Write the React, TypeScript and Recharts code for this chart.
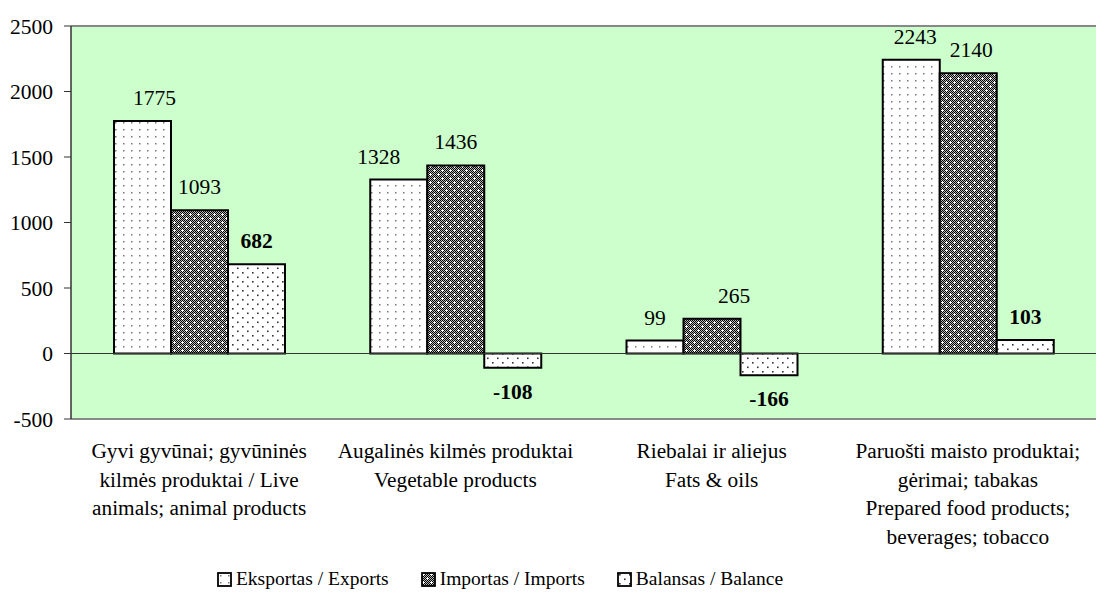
import { BarChart, Bar, XAxis, YAxis, CartesianGrid, ReferenceLine, Legend, LabelList } from 'recharts'

const CATEGORIES = ['animal', 'vegetable', 'fats', 'prepared']

const CATEGORY_LINES: string[][] = [
  ['Gyvi gyvūnai; gyvūninės', 'kilmės produktai / Live', 'animals; animal products'],
  ['Augalinės kilmės produktai', 'Vegetable products'],
  ['Riebalai ir aliejus', 'Fats & oils'],
  ['Paruošti maisto produktai;', 'gėrimai; tabakas', 'Prepared food products;', 'beverages; tobacco'],
]

const EXPORTS = [1775, 1328, 99, 2243]
const IMPORTS = [1093, 1436, 265, 2140]
const BALANCE = [682, -108, -166, 103]

const Y_TICKS = [-500, 0, 500, 1000, 1500, 2000, 2500]

const SERIES = [
  { key: 'exports', name: 'Eksportas / Exports', fill: 'url(#patExports)', bold: false },
  { key: 'imports', name: 'Importas / Imports', fill: 'url(#patImports)', bold: false },
  { key: 'balance', name: 'Balansas / Balance', fill: 'url(#patBalance)', bold: true },
]

// a few labels sit off-centre in the original
const LABEL_NUDGE: Record<string, number[]> = {
  exports: [12, -20, 0, 4],
  imports: [0, 0, 22, 3],
  balance: [0, 0, 0, 0],
}

const FONT = 'Liberation Serif, Tinos, DejaVu Serif, serif'

const data = CATEGORIES.map((key, i) => ({
  key,
  exports: EXPORTS[i],
  imports: IMPORTS[i],
  balance: BALANCE[i],
}))

function CategoryTick(props: any) {
  const { x, y, index } = props
  const lines = CATEGORY_LINES[index] || []
  return (
    <text x={x} y={y} textAnchor="middle" style={{ fontFamily: FONT }} fontSize={21.3} fill="#000">
      {lines.map((line, i) => (
        <tspan key={i} x={x} dy={i === 0 ? 39 : 28.5}>
          {line}
        </tspan>
      ))}
    </text>
  )
}

function makeLabel(seriesKey: string, bold: boolean) {
  return (props: any) => {
    const { x, y, width, height, value, index } = props
    const top = Math.min(y, y + height)
    const bottom = Math.max(y, y + height)
    const ty = value >= 0 ? top - 16 : bottom + 31
    const nudge = LABEL_NUDGE[seriesKey][index] || 0
    return (
      <text
        x={x + width / 2 + nudge}
        y={ty}
        textAnchor="middle"
        style={{ fontFamily: FONT }}
        fontSize={21.5}
        fontWeight={bold ? 'bold' : 'normal'}
        fill="#000"
      >
        {value}
      </text>
    )
  }
}

function checkerRects() {
  const out = []
  for (let i = 0; i < 8; i++) {
    for (let j = 0; j < 8; j++) {
      if ((i + j) % 2 === 0) out.push(<rect key={`${i}-${j}`} x={i} y={j} width={1} height={1} fill="#000" />)
    }
  }
  return out
}

function renderLegend() {
  return (
    <div
      style={{
        height: 44,
        display: 'flex',
        justifyContent: 'center',
        alignItems: 'flex-end',
        gap: 32,
        fontFamily: FONT,
        fontSize: 19.5,
        lineHeight: '20px',
        paddingRight: 96,
        boxSizing: 'border-box',
        paddingBottom: 4,
      }}
    >
      {SERIES.map(s => (
        <div key={s.key} style={{ display: 'flex', alignItems: 'center', gap: 4 }}>
          <svg width={15} height={15} style={{ display: 'block' }}>
            <rect x={1} y={1} width={13} height={13} fill={s.fill} stroke="#000" strokeWidth={1.8} />
          </svg>
          <span>{s.name}</span>
        </div>
      ))}
    </div>
  )
}

export default function App() {
  return (
    <div style={{ position: 'absolute', left: 0, top: 0, background: '#fff', fontFamily: FONT }}>
      <BarChart
        width={1096}
        height={593}
        data={data}
        margin={{ top: 26, right: 0, left: 0, bottom: 0 }}
        barGap={0}
        barSize={57}
        style={{ fontFamily: FONT }}
      >
        <defs>
          <pattern id="patExports" width={8} height={7} patternUnits="userSpaceOnUse">
            <rect width={8} height={7} fill="#fff" />
            <rect x={3} y={3} width={1.5} height={1.5} fill="#777" />
          </pattern>
          <pattern id="patImports" width={8} height={8} patternUnits="userSpaceOnUse">
            <rect width={8} height={8} fill="#b8b8b8" />
            {checkerRects()}
            <rect x={1} y={2} width={3} height={1} fill="#fff" />
            <rect x={2} y={1} width={1} height={3} fill="#fff" />
            <rect x={5} y={6} width={3} height={1} fill="#fff" />
            <rect x={6} y={5} width={1} height={3} fill="#fff" />
          </pattern>
          <pattern id="patBalance" width={10} height={9} patternUnits="userSpaceOnUse">
            <rect width={10} height={9} fill="#fff" />
            <rect x={2} y={2} width={1.6} height={1.6} fill="#333" />
            <rect x={7} y={6.5} width={1.6} height={1.6} fill="#333" />
          </pattern>
        </defs>
        <CartesianGrid horizontal={false} vertical={false} fill="#ccffcc" fillOpacity={1} />
        <XAxis
          dataKey="key"
          interval={0}
          height={130}
          axisLine={{ stroke: '#888', strokeWidth: 2 }}
          tickLine={false}
          tickSize={0}
          tickMargin={0}
          tick={<CategoryTick />}
        />
        <YAxis
          width={71}
          domain={[-500, 2500]}
          ticks={Y_TICKS}
          interval={0}
          axisLine={{ stroke: '#333', strokeWidth: 1.5 }}
          tickLine={{ stroke: '#333' }}
          tickSize={7}
          tickMargin={11}
          tick={{ style: { fontFamily: FONT }, fontSize: 21.5, fill: '#000' }}
        />
        <ReferenceLine y={2500} stroke="#888" strokeWidth={2} />
        <ReferenceLine y={0} stroke="#333" strokeWidth={1.2} />
        <Legend verticalAlign="bottom" content={renderLegend} />
        {SERIES.map(s => (
          <Bar
            key={s.key}
            dataKey={s.key}
            name={s.name}
            fill={s.fill}
            stroke="#000"
            strokeWidth={2}
            isAnimationActive={false}
          >
            <LabelList dataKey={s.key} content={makeLabel(s.key, s.bold)} />
          </Bar>
        ))}
      </BarChart>
    </div>
  )
}
